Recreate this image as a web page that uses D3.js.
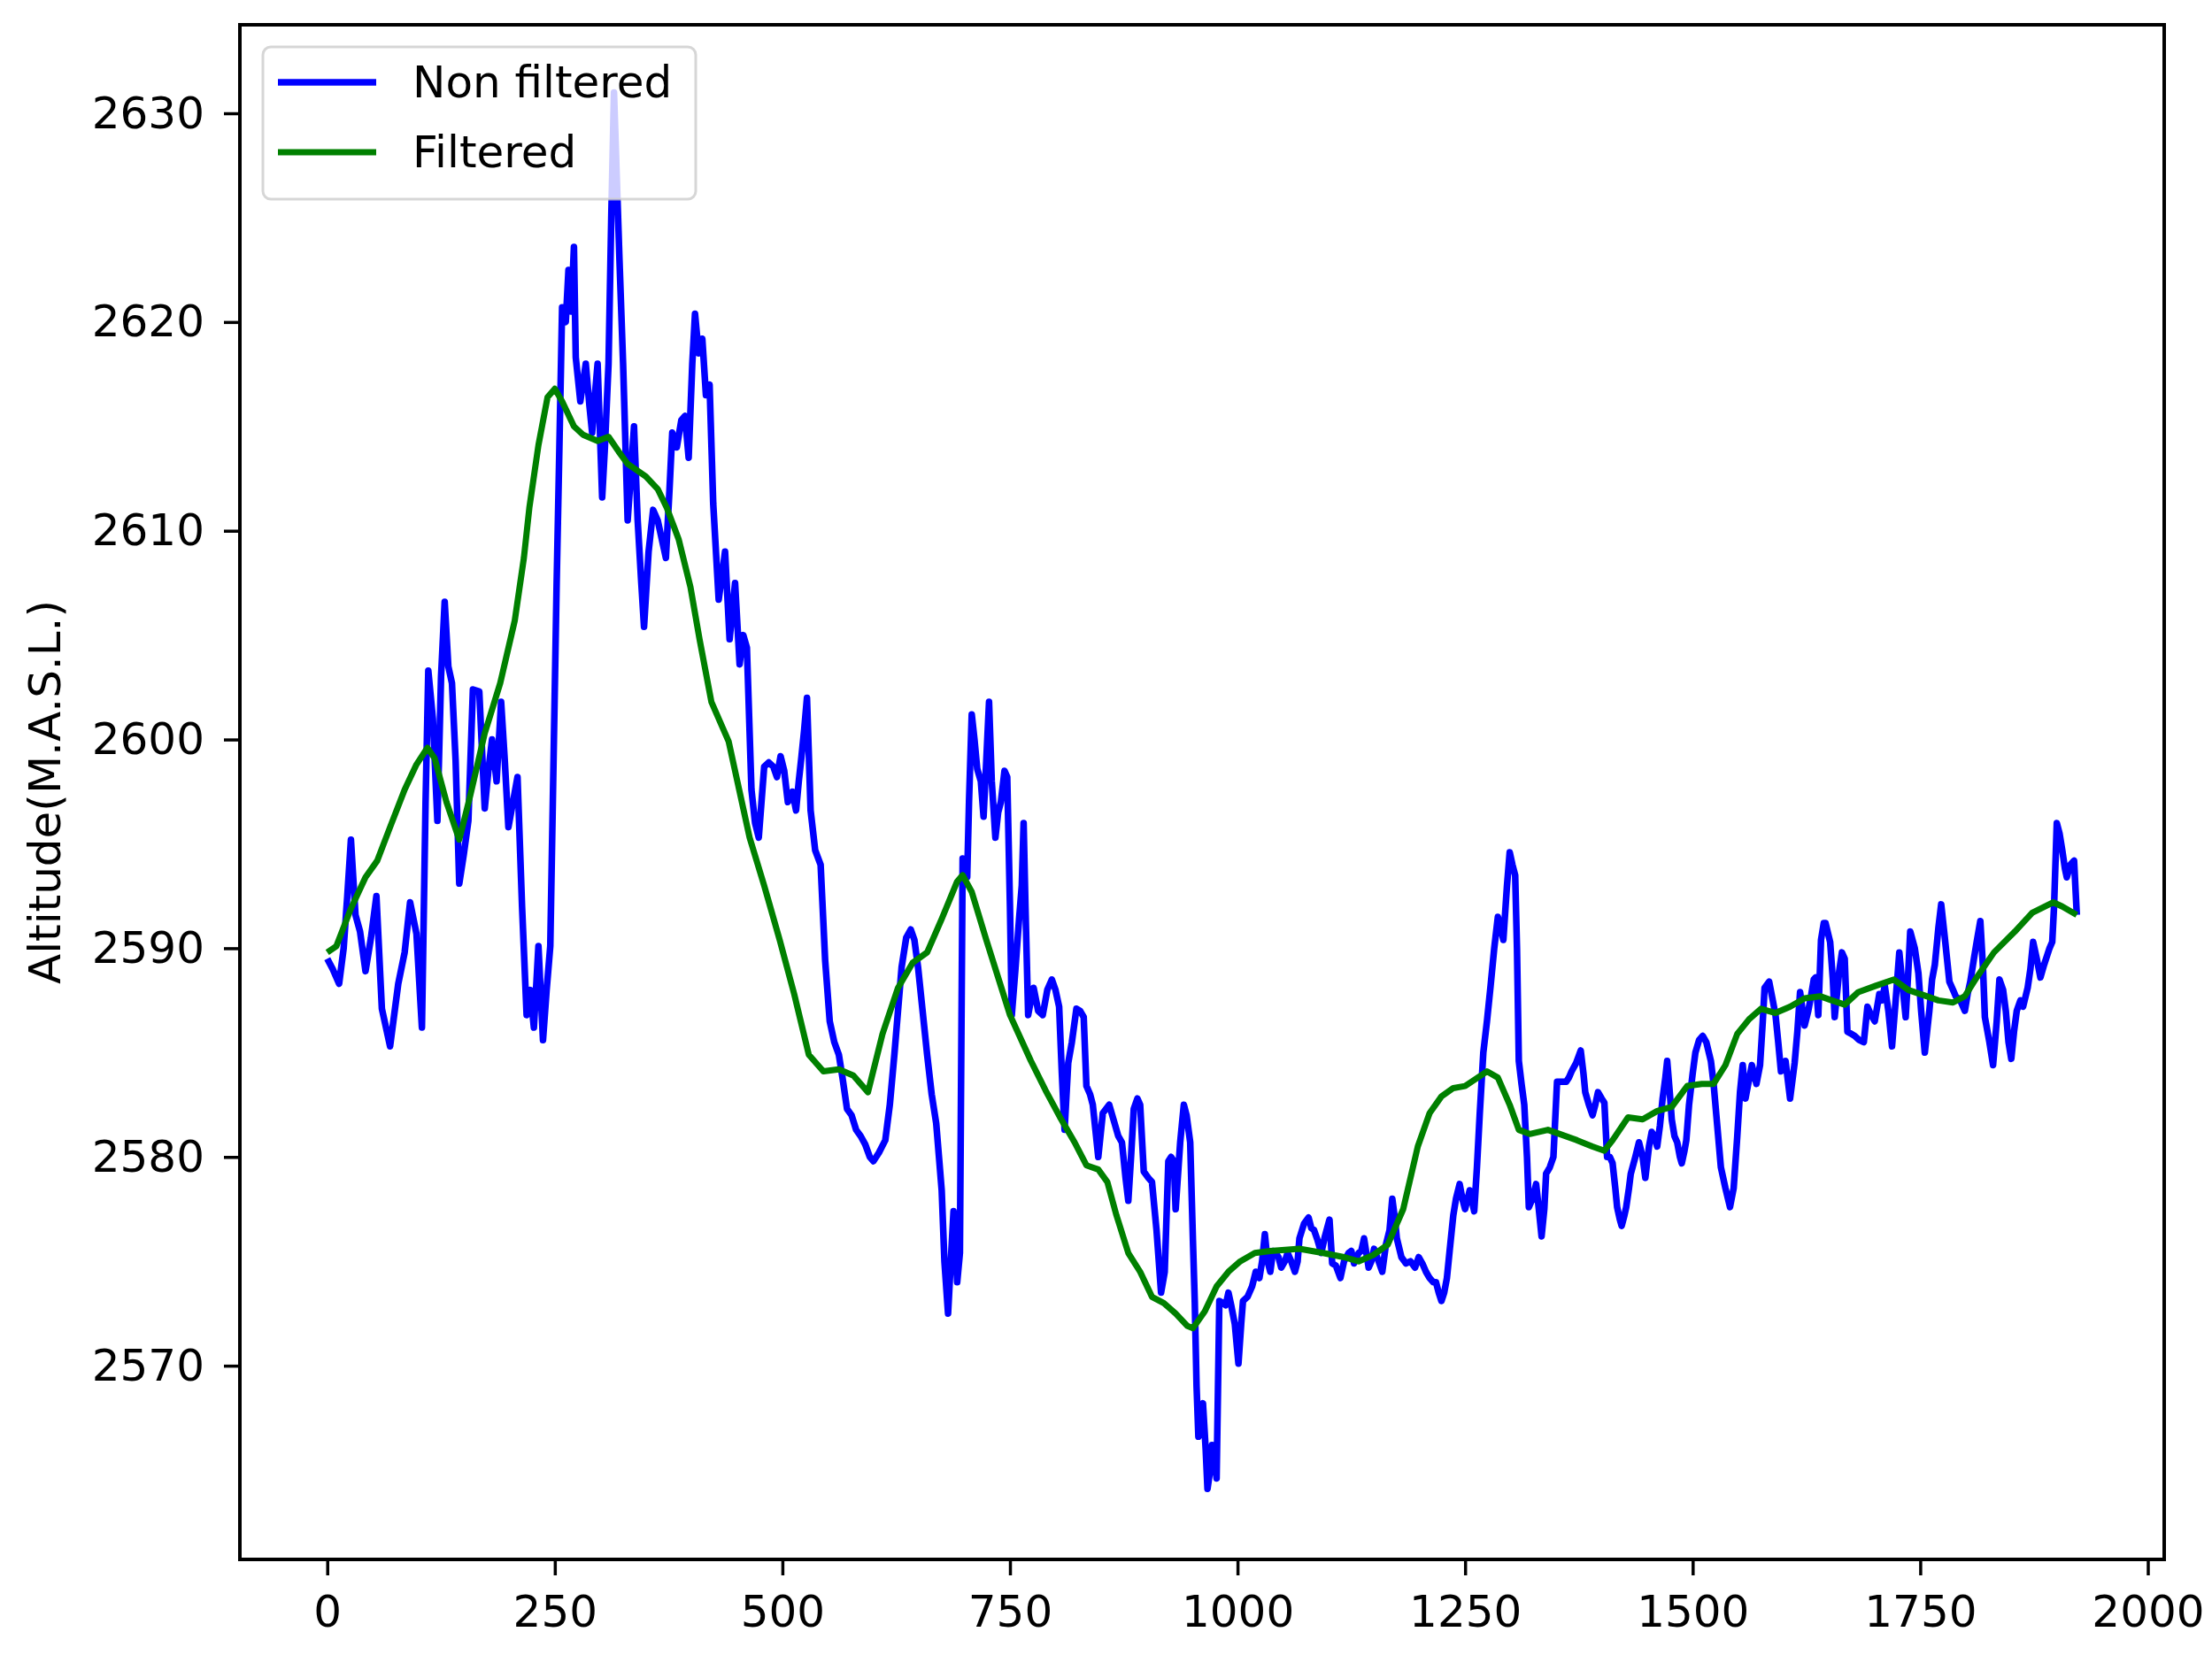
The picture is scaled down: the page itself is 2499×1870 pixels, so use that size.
<!DOCTYPE html>
<html>
<head>
<meta charset="utf-8">
<script src="https://cdn.jsdelivr.net/npm/d3@7"></script>
<style>
  body { margin: 0; background: #ffffff; }
  text { font-family: "DejaVu Sans", sans-serif; }
</style>
</head>
<body>
<div id="viz"></div>
<script>
// raw altitude samples
var rawSteps = [0, 6, 13, 18, 22, 26, 31, 36, 42, 48, 54, 60, 69, 78, 85, 91, 98, 104, 108, 111, 116, 121, 125, 129, 133, 137, 141, 145, 150, 155, 160, 167, 173, 177, 181, 186, 191, 195, 199, 204, 209, 214, 219, 223, 227, 232, 237, 241, 245, 249, 252, 255, 258, 262, 265, 268, 271, 273, 278, 284, 288, 291, 294, 297, 302, 305, 309, 312, 315, 318, 321, 325, 330, 334, 337, 341, 345, 348, 353, 358, 363, 368, 372, 376, 379, 384, 389, 393, 397, 401, 404, 408, 412, 416, 420, 424, 430, 434, 437, 442, 448, 453, 457, 461, 466, 470, 474, 480, 485, 490, 494, 498, 502, 506, 511, 515, 518, 521, 524, 527, 531, 536, 542, 547, 552, 557, 562, 566, 571, 576, 581, 586, 591, 596, 600, 606, 613, 618, 623, 627, 631, 636, 641, 645, 649, 654, 659, 664, 669, 672, 675, 678, 682, 685, 688, 692, 695, 698, 703, 705, 708, 711, 714, 718, 721, 724, 727, 730, 734, 737, 740, 744, 747, 750, 752, 756, 760, 763, 765, 767, 770, 773, 776, 781, 786, 791, 796, 800, 804, 807, 810, 814, 818, 823,
  827, 831, 834, 838, 841, 847, 852, 859, 865, 869, 873, 877, 880, 883, 886, 890, 893, 897, 902, 906, 911, 916, 920, 924, 927, 930, 932, 937, 941, 944, 948, 951, 953, 955, 957, 960, 962, 965, 967, 970, 972, 975, 977, 980, 984, 987, 990, 993, 997, 1001, 1004, 1006, 1011, 1016, 1020, 1024, 1027, 1030, 1033, 1036, 1039, 1042, 1045, 1048, 1052, 1055, 1059, 1063, 1066, 1068, 1073, 1078, 1081, 1084, 1088, 1092, 1096, 1101, 1104, 1108, 1113, 1117, 1122, 1125, 1128, 1133, 1136, 1139, 1144, 1147, 1150, 1155, 1159, 1163, 1167, 1170, 1173, 1175, 1180, 1185, 1190, 1195, 1199, 1203, 1207, 1211, 1215, 1218, 1221, 1224, 1227, 1230, 1233, 1237,
  1240, 1244, 1247, 1250, 1255, 1260, 1263, 1266, 1270, 1274, 1278, 1282, 1286, 1289, 1292, 1296, 1299, 1302, 1305, 1307, 1309, 1312, 1315, 1318, 1320, 1324, 1328, 1331, 1334, 1337, 1339, 1343, 1347, 1351, 1356, 1361, 1364, 1367, 1372, 1377, 1380, 1382, 1386, 1390, 1393, 1396, 1400, 1403, 1406, 1409, 1412, 1415, 1417, 1420, 1422, 1425, 1427, 1430, 1432, 1437, 1441, 1445, 1448, 1452, 1455, 1458, 1461, 1464, 1467, 1470, 1472, 1475, 1477, 1480, 1483, 1486, 1488, 1491, 1493, 1496, 1500, 1503, 1507, 1511, 1515, 1520, 1523, 1526, 1529, 1531, 1536, 1541, 1545, 1549, 1552, 1555, 1558, 1561, 1565, 1570, 1574, 1577, 1579, 1584, 1588, 1591, 1594, 1597, 1602, 1607, 1612, 1615, 1618, 1623, 1627, 1630, 1633, 1635, 1638, 1641, 1644,
  1646, 1651, 1654, 1656, 1661, 1664, 1667, 1670, 1674, 1678, 1683, 1688, 1692, 1696, 1700, 1705, 1708, 1711, 1715, 1719, 1723, 1727, 1731, 1734, 1737, 1739, 1744, 1748, 1751, 1755, 1760, 1763, 1766, 1770, 1773, 1777, 1782, 1786, 1789, 1794, 1799, 1802, 1805, 1809, 1812, 1816, 1819, 1821, 1826, 1830, 1834, 1837, 1841, 1844, 1847, 1850, 1853, 1856, 1860, 1863, 1868, 1871, 1874, 1878, 1882, 1886, 1889, 1892, 1895, 1897, 1900, 1903, 1906, 1909, 1911, 1915, 1919, 1922]

var rawAltitude = [2589.5, 2589.0, 2588.3, 2590, 2592.5, 2595.2, 2591.6, 2590.8, 2588.9, 2590.5, 2592.5, 2587.1, 2585.3, 2588.3, 2589.8, 2592.2, 2590.7, 2586.2, 2597, 2603.3, 2601, 2596.1, 2603, 2606.6, 2603.5, 2602.7, 2599, 2593.1, 2594.5, 2596.1, 2602.4, 2602.3, 2596.7, 2598.5, 2600, 2598, 2601.8, 2599, 2595.8, 2597, 2598.2, 2592, 2586.8, 2588, 2586.2, 2590.1, 2585.6, 2588, 2590.1, 2600, 2607.5, 2614, 2620.7, 2620, 2622.5, 2620.5, 2623.6, 2618.3, 2616.2, 2618, 2616, 2614.7, 2616.5, 2618, 2611.6, 2614, 2618, 2625, 2631, 2627, 2623, 2618, 2610.5, 2613, 2615, 2610.5, 2607.5, 2605.4, 2609, 2611, 2610.5, 2609.5, 2608.7, 2612, 2614.7, 2614, 2615.3, 2615.5, 2613.5, 2618, 2620.4, 2618.5, 2619.2, 2616.5, 2617, 2611.3, 2606.7, 2608, 2609, 2604.8, 2607.5, 2603.6, 2605, 2604.4, 2597.6, 2596, 2595.3, 2598.7, 2598.9, 2598.7, 2598.2, 2599.2, 2598.5, 2597, 2597.5, 2596.6, 2598, 2599.2, 2600.5, 2602, 2596.6, 2594.7, 2594, 2589.4, 2586.5, 2585.5, 2584.9, 2583.8, 2582.3, 2582, 2581.3, 2581, 2580.6, 2580, 2579.8, 2580.2, 2580.8, 2582.5, 2584.9, 2587, 2589.1, 2590.5, 2590.9, 2590.4, 2589.1, 2587, 2584.9, 2583, 2581.6, 2580, 2578.4, 2575, 2572.5, 2575, 2577.4, 2574, 2575.4, 2594.3, 2593.4, 2597, 2601.2, 2600, 2598.6, 2598, 2596.3, 2599, 2601.8, 2598, 2595.3, 2596.5, 2597, 2598.5, 2598.2, 2592, 2586.8, 2589, 2591.4, 2593, 2596, 2592, 2586.8, 2587.5, 2588.1, 2587, 2586.8, 2588, 2588.5, 2588, 2587.2, 2584, 2581.3, 2584.5, 2585.5, 2587.1,
  2587, 2586.7, 2583.4, 2583, 2582.5, 2580, 2582.1, 2582.5, 2581.6, 2581, 2580.7, 2579, 2577.9, 2580, 2582.3, 2582.8, 2582.5, 2579.3, 2579, 2578.8, 2576.5, 2573.5, 2574.5, 2579.8, 2580, 2579.8, 2577.5, 2580.7, 2582.5, 2582, 2580.7, 2576, 2573.1, 2569, 2566.6, 2568, 2568.2, 2566, 2564.1, 2565, 2566.2, 2565.5, 2564.6, 2573.1, 2573, 2572.9, 2573.5, 2572.9, 2572, 2570.1, 2572, 2573.1, 2573.3, 2573.8, 2574.5, 2574.2, 2575, 2576.3, 2575, 2574.5, 2575.5, 2575.4, 2575.2, 2574.7, 2575, 2575.4, 2575, 2574.5, 2575, 2576.1, 2576.8, 2577.1, 2576.6, 2576.5, 2576, 2575.4, 2576.2, 2577, 2574.9, 2574.8, 2574.2, 2575, 2575.4, 2575.5, 2574.9, 2575.4, 2575.5, 2576.1, 2574.7, 2575, 2575.6, 2575, 2574.5, 2575.8, 2576.5, 2578, 2577, 2576.1, 2575.2, 2574.9, 2575, 2574.7, 2575.2, 2574.9, 2574.5, 2574.2, 2574, 2574, 2573.5, 2573.1, 2573.5, 2574.2, 2575.5, 2577.2,
  2578, 2578.7, 2578, 2577.5, 2578.4, 2577.4, 2579.5, 2582, 2585, 2586.5, 2588.2, 2590, 2591.5, 2591, 2590.4, 2593, 2594.6, 2594, 2593.5, 2590, 2584.6, 2583.5, 2582.5, 2580, 2577.6, 2578, 2578.7, 2577.5, 2576.2, 2577.5, 2579.2, 2579.5, 2580, 2583.6, 2583.6, 2583.6, 2583.8, 2584.1, 2584.5, 2585.1, 2584, 2583.1, 2582.5, 2582, 2582.5, 2583.1, 2582.8, 2582.6, 2580, 2580, 2579.7, 2578.5, 2577.6, 2577, 2576.7, 2577.2, 2577.6, 2578.5, 2579.2, 2580, 2580.7, 2580, 2579, 2580.5, 2581.2, 2581, 2580.5, 2581.5, 2582.8, 2583.8, 2584.6, 2583, 2581.8, 2581, 2580.7, 2580, 2579.7, 2580.3, 2580.8, 2582.5, 2584, 2585, 2585.6, 2585.8, 2585.5, 2584.6, 2583.5, 2582, 2580.5, 2579.5, 2578.5, 2577.6, 2578.5, 2581, 2583.1, 2584.4, 2582.8, 2583.5, 2584.4, 2583.5, 2584.4, 2586.5, 2588.1, 2588.4, 2587.5, 2586.8, 2585.5, 2584.1, 2584.6, 2582.8, 2584.5, 2586, 2587.9, 2586.3, 2587, 2587.7, 2588.5, 2588.6, 2586.8, 2590.4, 2591.2,
  2591.2, 2590.3, 2588.5, 2586.7, 2588.9, 2589.8, 2589.5, 2586, 2585.9, 2585.8, 2585.6, 2585.5, 2587.2, 2586.8, 2586.5, 2587.8, 2587.5, 2588.2, 2587, 2585.3, 2587.5, 2589.8, 2588, 2586.7, 2589, 2590.8, 2590, 2588.8, 2587, 2585, 2587, 2588.5, 2589.2, 2591, 2592.1, 2590.5, 2588.4, 2588, 2587.7, 2587.5, 2587, 2587.8, 2588.4, 2589.5, 2590.3, 2591.3, 2589, 2586.7, 2585.5, 2584.4, 2586.5, 2588.5, 2588, 2587, 2585.5, 2584.7, 2586, 2587, 2587.5, 2587.2, 2588.1, 2589, 2590.3, 2589.5, 2588.6, 2589.2, 2589.6, 2590, 2590.3, 2592, 2596, 2595.5, 2594.7, 2593.8, 2593.4, 2594, 2594.2, 2591.6]

// filtered altitude
var filtSteps = [0, 10, 26, 42, 55, 69, 85, 98, 110, 118, 131, 145, 157, 173, 190, 206, 216, 222, 232, 242, 250, 258, 271, 281, 297, 309, 320, 330, 350, 363, 373, 386, 399, 409, 422, 441, 464, 480, 497, 513, 529, 545, 562, 578, 594, 610, 627, 643, 659, 675, 692, 698, 708, 724, 750, 773, 789, 805, 821, 834, 847, 857, 867, 880, 893, 906, 919, 932, 945, 951, 964, 977, 990, 1003, 1019, 1036, 1068, 1094, 1117, 1133, 1149, 1165, 1182, 1198, 1211, 1224, 1237, 1250, 1274, 1286, 1299, 1309, 1321, 1341, 1354, 1373, 1390, 1403, 1412, 1429, 1445, 1461, 1477, 1494, 1510, 1523, 1536, 1549, 1562, 1575, 1591, 1607, 1623, 1640, 1653, 1667, 1682, 1701, 1721, 1737, 1757, 1770, 1786, 1799, 1812, 1831, 1854, 1873, 1896, 1906, 1922]

var filtAltitude = [2589.8, 2590.1, 2591.9, 2593.4, 2594.2, 2595.8, 2597.6, 2598.8, 2599.6, 2599.1, 2597, 2595.2, 2597.3, 2600.3, 2602.7, 2605.7, 2608.7, 2611.1, 2614.1, 2616.4, 2616.8, 2616.2, 2615, 2614.6, 2614.3, 2614.5, 2613.8, 2613.2, 2612.6, 2612, 2611.1, 2609.6, 2607.3, 2604.8, 2601.8, 2599.9, 2595.3, 2593, 2590.4, 2587.8, 2584.9, 2584.1, 2584.2, 2583.9, 2583.1, 2585.9, 2588.1, 2589.3, 2589.8, 2591.4, 2593.2, 2593.5, 2592.7, 2590.4, 2586.8, 2584.6, 2583.2, 2581.9, 2580.7, 2579.6, 2579.4, 2578.8, 2577.2, 2575.4, 2574.5, 2573.3, 2573, 2572.5, 2571.9, 2571.8, 2572.6, 2573.8, 2574.5, 2575, 2575.4, 2575.5, 2575.6, 2575.4, 2575.2, 2575, 2575.3, 2575.8, 2577.5, 2580.5, 2582.1, 2582.9, 2583.3, 2583.4, 2584.1, 2583.8, 2582.5, 2581.3, 2581.1, 2581.3, 2581.1, 2580.8, 2580.5, 2580.3, 2580.8, 2581.9, 2581.8, 2582.2, 2582.4, 2583.4, 2583.5, 2583.5, 2584.4, 2585.9, 2586.6, 2587.1, 2586.9, 2587.2, 2587.6, 2587.7, 2587.5, 2587.3, 2587.9, 2588.2, 2588.5, 2588, 2587.7, 2587.5, 2587.4, 2587.7, 2588.6, 2589.8, 2590.8, 2591.7, 2592.2, 2592, 2591.6]

var xTicks = [0, 250, 500, 750, 1000, 1250, 1500, 1750, 2000]
var yTicks = [2570, 2580, 2590, 2600, 2610, 2620, 2630]
var seriesNames = ["Non filtered", "Filtered"]
var seriesColors = ["#0000ff", "#008000"]
var seriesWidths = [7.5, 7]

// set the dimensions and margins of the graph
var width = 2499, height = 1870
var margin = { top: 28, right: 54, bottom: 108, left: 271 }
var plotW = width - margin.left - margin.right,
  plotH = height - margin.top - margin.bottom

var svg = d3.select("#viz")
  .append("svg")
  .attr("width", width)
  .attr("height", height)

svg.append("rect")
  .attr("width", width)
  .attr("height", height)
  .attr("fill", "#ffffff")

var g = svg.append("g")
  .attr("transform", "translate(" + margin.left + "," + margin.top + ")")

var x = d3.scaleLinear().domain([-96, 2018]).range([0, plotW])
var y = d3.scaleLinear().domain([2560.72, 2634.24]).range([plotH, 0])

var raw = rawSteps.map((s, i) => ({ x: s, y: rawAltitude[i] }))
var filt = filtSteps.map((s, i) => ({ x: s, y: filtAltitude[i] }))

var line = d3.line()
  .x(d => x(d.x))
  .y(d => y(d.y))

g.append("path")
  .datum(raw)
  .attr("d", line)
  .attr("fill", "none")
  .attr("stroke", seriesColors[0])
  .attr("stroke-width", seriesWidths[0])
  .attr("stroke-linejoin", "round")

g.append("path")
  .datum(filt)
  .attr("d", line)
  .attr("fill", "none")
  .attr("stroke", seriesColors[1])
  .attr("stroke-width", seriesWidths[1])
  .attr("stroke-linejoin", "round")

// axes
var xAxis = g.append("g")
  .attr("transform", "translate(0," + plotH + ")")
  .call(d3.axisBottom(x).tickValues(xTicks).tickSize(18).tickPadding(22).tickFormat(d3.format("d")))
var yAxis = g.append("g")
  .call(d3.axisLeft(y).tickValues(yTicks).tickSize(18).tickPadding(22).tickFormat(d3.format("d")))

;[xAxis, yAxis].forEach(a => {
  a.select(".domain").remove()
  a.selectAll(".tick line").attr("stroke", "#000").attr("stroke-width", 3.5)
  a.selectAll(".tick text")
    .attr("fill", "#000")
    .style("font-family", "'DejaVu Sans', sans-serif")
    .style("font-size", "50px")
})

// frame (all four spines)
g.append("rect")
  .attr("width", plotW)
  .attr("height", plotH)
  .attr("fill", "none")
  .attr("stroke", "#000")
  .attr("stroke-width", 4)

svg.append("text")
  .attr("transform", "translate(68," + (margin.top + plotH / 2) + ") rotate(-90)")
  .attr("text-anchor", "middle")
  .style("font-size", "50px")
  .attr("fill", "#000")
  .text("Altitude(M.A.S.L.)")

// legend, drawn over the lines
var legend = svg.append("g").attr("transform", "translate(297,53)")
legend.append("rect")
  .attr("width", 489)
  .attr("height", 172)
  .attr("rx", 9)
  .attr("fill", "#ffffff")
  .attr("fill-opacity", 0.8)
  .attr("stroke", "#cccccc")
  .attr("stroke-opacity", 0.8)
  .attr("stroke-width", 3)

seriesNames.forEach((name, i) => {
  var row = legend.append("g").attr("transform", "translate(0," + (40 + i * 79) + ")")
  row.append("line")
    .attr("x1", 17).attr("x2", 128)
    .attr("stroke", seriesColors[i])
    .attr("stroke-width", seriesWidths[i])
  row.append("text")
    .attr("x", 169)
    .attr("y", 17)
    .style("font-size", "50px")
    .attr("fill", "#000")
    .text(name)
})
</script>
</body>
</html>
